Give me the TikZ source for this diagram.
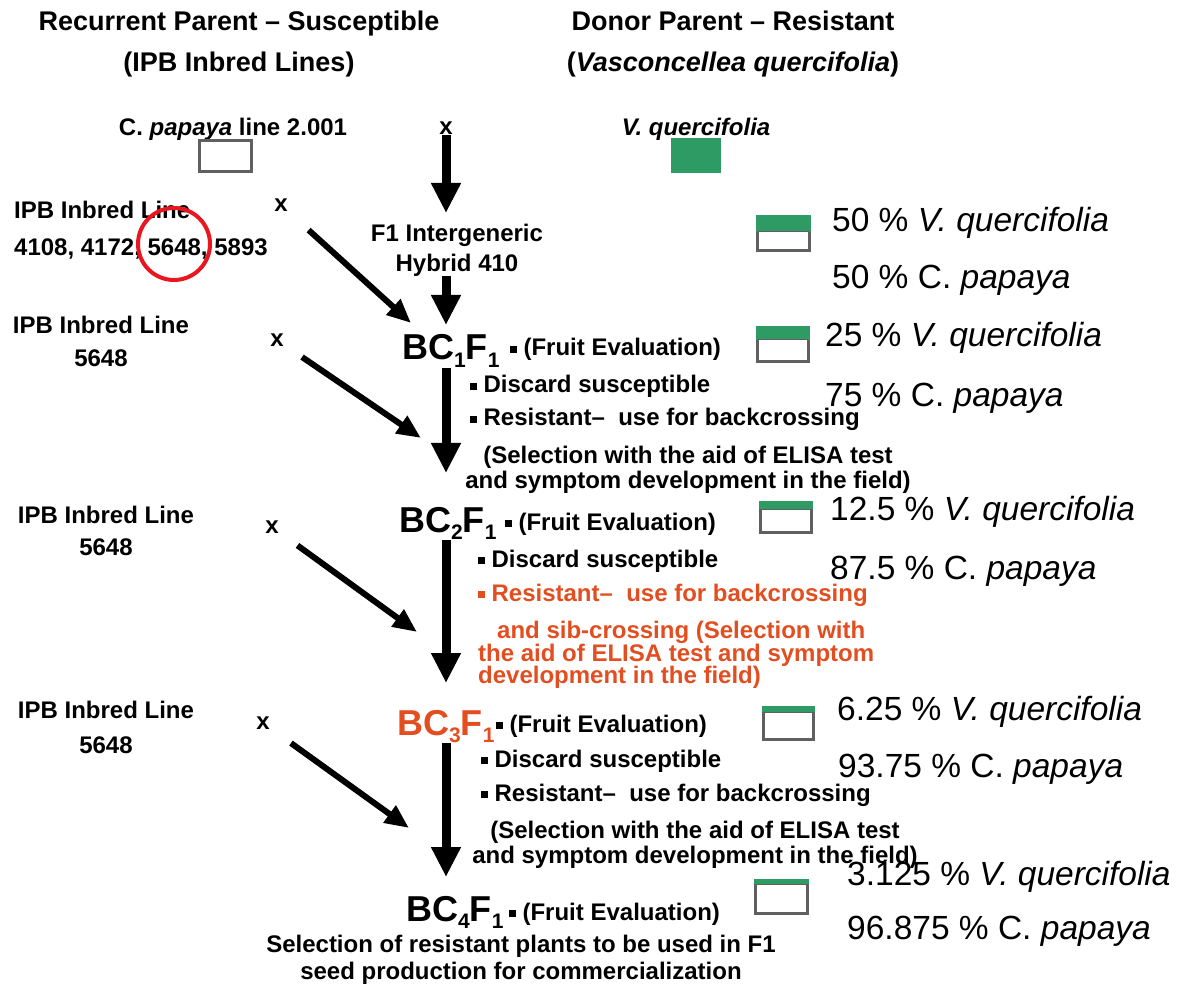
\documentclass[tikz,border=0pt]{standalone}
\usepackage{fontspec}
\setmainfont{Liberation Sans}
\usetikzlibrary{arrows.meta}

\definecolor{boxgreen}{RGB}{46,155,100}
\definecolor{boxgray}{RGB}{96,96,96}
\definecolor{selred}{RGB}{226,78,32}
\definecolor{ringred}{RGB}{232,22,32}

% small square bullet and lowered subscript
\newcommand{\bul}{\rule[0.12em]{0.28em}{0.28em}}
\newcommand{\lowsub}[1]{\raisebox{-0.22em}{\fontsize{21}{21}\selectfont #1}}

\tikzset{
  heading/.style={font=\fontsize{27}{41}\selectfont\bfseries, inner sep=0pt, align=center},
  lbl/.style={font=\fontsize{24}{25}\selectfont\bfseries, inner sep=0pt},
  pct/.style={font=\fontsize{33.5}{36}\selectfont, inner sep=0pt, anchor=base west},
  bcgen/.style={font=\fontsize{36}{40}\selectfont\bfseries, inner sep=0pt, anchor=base west},
  cross/.style={font=\fontsize{24}{24}\selectfont\bfseries, inner sep=0pt},
  vert/.style={line width=9pt, -{Triangle[length=30pt,width=28pt]}},
  diag/.style={line width=6pt, -{Triangle[length=24pt,width=20pt]}},
  boxline/.style={draw=boxgray, line width=3pt},
}

\begin{document}
\begin{tikzpicture}[x=1pt, y=-1pt]
      \useasboundingbox (0,0) rectangle (1187,984);

      % Headings
      \node (recur) [heading] at (239,44.5) {Recurrent Parent – Susceptible\\(IPB Inbred Lines)};
      \node (donor) [heading] at (733,44.5) {Donor Parent – Resistant\\(\textit{Vasconcellea quercifolia})};

      % Parents
      \node (papaya) [lbl, anchor=base] at (233,136) {C. \textit{papaya} line 2.001};
      \node (querc) [lbl, anchor=base] at (696,136) {\textit{V. quercifolia}};
      \draw[boxline, fill=white] (199,141) rectangle (251,172);
      \fill[boxgreen] (671,138) rectangle (721,173);
      \node (x0) [cross] at (446,128) {x};
      \node (hyb) [lbl, align=center, font=\fontsize{24}{30}\selectfont\bfseries] at (457,250) {F1 Intergeneric\\Hybrid 410};

      % Recurrent lines on the left
      \node (line1) [lbl, align=left, anchor=west, font=\fontsize{24}{37}\selectfont\bfseries] at (14,230) {IPB Inbred Line\\4108, 4172, 5648, 5893};
      \draw[ringred, line width=4pt] (174,244) circle[radius=36pt];
      \node (line2) [lbl, align=center, font=\fontsize{24}{33}\selectfont\bfseries] at (101,341.5) {IPB Inbred Line\\5648};
      \node (line3) [lbl, align=center, font=\fontsize{24}{32}\selectfont\bfseries] at (106,531) {IPB Inbred Line\\5648};
      \node (line4) [lbl, align=center, font=\fontsize{24}{35}\selectfont\bfseries] at (106,727.5) {IPB Inbred Line\\5648};
      \node (x1) [cross] at (281,205) {x};
      \node (x2) [cross] at (277,340) {x};
      \node (x3) [cross] at (272,527) {x};
      \node (x4) [cross] at (263,723) {x};

      % Backcross generations
      \node (bc1) [bcgen] at (402,360) {BC\lowsub{1}F\lowsub{1}};
      \node (bc2) [bcgen] at (399,532) {BC\lowsub{2}F\lowsub{1}};
      \node (bc3) [bcgen, text=selred] at (397,735) {BC\lowsub{3}F\lowsub{1}};
      \node (bc4) [bcgen] at (406,921) {BC\lowsub{4}F\lowsub{1}};
      \node (fe1) [lbl, anchor=base west] at (510,356) {\bul\ (Fruit Evaluation)};
      \node (fe2) [lbl, anchor=base west] at (505,530) {\bul\ (Fruit Evaluation)};
      \node (fe3) [lbl, anchor=base west] at (496,732) {\bul\ (Fruit Evaluation)};
      \node (fe4) [lbl, anchor=base west] at (509,920) {\bul\ (Fruit Evaluation)};

      % Selection notes
      \node (disc1) [lbl, anchor=base west] at (470,393) {\bul\ Discard susceptible};
      \node (res1) [lbl, anchor=base west] at (470,426) {\bul\ Resistant–\ \ use for backcrossing};
      \node (sel1) [lbl, align=center] at (688,469.5) {(Selection with the aid of ELISA test\\and symptom development in the field)};
      \node (disc2) [lbl, anchor=base west] at (478,567) {\bul\ Discard susceptible};
      \node (res2) [lbl, anchor=base west, text=selred] at (478,601) {\bul\ Resistant–\ \ use for backcrossing};
      \node (sel2) [lbl, align=left, anchor=west, text=selred, font=\fontsize{24}{22.5}\selectfont\bfseries] at (478,655) {\hspace*{19pt}and sib-crossing (Selection with\\the aid of ELISA test and symptom\\development in the field)};
      \node (disc3) [lbl, anchor=base west] at (481,767) {\bul\ Discard susceptible};
      \node (res3) [lbl, anchor=base west] at (481,801) {\bul\ Resistant–\ \ use for backcrossing};
      \node (sel3) [lbl, align=center] at (695,844.5) {(Selection with the aid of ELISA test\\and symptom development in the field)};
      \node (final) [lbl, align=center, font=\fontsize{24}{27}\selectfont\bfseries] at (521,959.5) {Selection of resistant plants to be used in F1\\seed production for commercialization};

      % Genome share boxes
      \foreach \xa/\ya/\xb/\yb/\yg in {757/217/809/251/232, 757/328/808/362/340, 760/502/811/532/509, 763/707/813/739/712, 755/880/807/913/884} {
          \draw[boxline, fill=white] (\xa,\ya) rectangle (\xb,\yb);
          \fill[boxgreen] (\xa-1.5,\ya-1.5) rectangle (\xb+1.5,\yg);
          \draw[boxgray, line width=1pt] (\xa,\yg) -- (\xb,\yg);
      }

      % Percentages
      \node (pv1) [pct] at (832,232) {50 \% \textit{V. quercifolia}};
      \node (pc1) [pct] at (832,289) {50 \% C. \textit{papaya}};
      \node (pv2) [pct] at (825,347) {25 \% \textit{V. quercifolia}};
      \node (pc2) [pct] at (825,407) {75 \% C. \textit{papaya}};
      \node (pv3) [pct] at (830,520) {12.5 \% \textit{V. quercifolia}};
      \node (pc3) [pct] at (830,579) {87.5 \% C. \textit{papaya}};
      \node (pv4) [pct] at (837,720) {6.25 \% \textit{V. quercifolia}};
      \node (pc4) [pct] at (838,777) {93.75 \% C. \textit{papaya}};
      \node (pv5) [pct] at (847,885) {3.125 \% \textit{V. quercifolia}};
      \node (pc5) [pct] at (847,939) {96.875 \% C. \textit{papaya}};

      % Arrow tips
      \coordinate (tip0) at (446,213);
      \coordinate (tip1) at (446,325);
      \coordinate (tip2) at (446,473);
      \coordinate (tip3) at (446,683);
      \coordinate (tip4) at (446,877);
      \coordinate (dtip1) at (411,323);
      \coordinate (dtip2) at (421,438);
      \coordinate (dtip3) at (417,632);
      \coordinate (dtip4) at (409,828);

      % Main line of descent
      \draw[vert] (x0.south) -- (tip0);
      \draw[vert] (hyb.south -| x0) -- (tip1);
      \draw[vert] (bc1.south -| x0) -- (tip2);
      \draw[vert] (bc2.south -| x0) -- (tip3);
      \draw[vert] (bc3.south -| x0) -- (tip4);

      % Backcrosses to the recurrent parent
      \draw[diag, shorten <=28pt] (x1) -- (dtip1);
      \draw[diag, shorten <=22pt] (x2) -- (dtip2);
      \draw[diag, shorten <=23pt] (x3) -- (dtip3);
      \draw[diag, shorten <=26pt] (x4) -- (dtip4);
    \end{tikzpicture}
\end{document}
